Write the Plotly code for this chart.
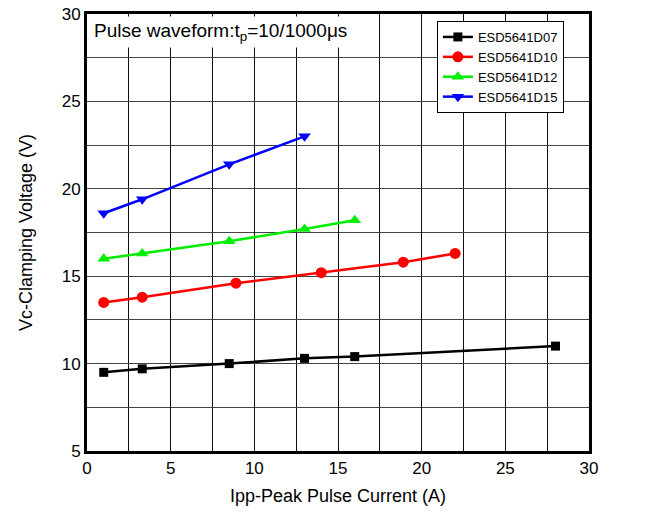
import plotly.graph_objects as go

names = ["ESD5641D07", "ESD5641D10", "ESD5641D12", "ESD5641D15"]
colors = ["#000000", "#ff0000", "#00ee00", "#0000ff"]
symbols = ["square", "circle", "triangle-up", "triangle-down"]
msizes = [9, 11, 11, 11]

x_d07 = [1, 3.3, 8.5, 13, 16, 28]
y_d07 = [9.5, 9.7, 10.0, 10.3, 10.4, 11.0]
x_d10 = [1, 3.3, 8.9, 14, 18.9, 22]
y_d10 = [13.5, 13.8, 14.6, 15.2, 15.8, 16.3]
x_d12 = [1, 3.3, 8.5, 13, 16]
y_d12 = [16.0, 16.3, 17.0, 17.7, 18.2]
x_d15 = [1, 3.3, 8.5, 13]
y_d15 = [18.6, 19.4, 21.4, 23.0]

xs = [x_d07, x_d10, x_d12, x_d15]
ys = [y_d07, y_d10, y_d12, y_d15]

fig = go.Figure()
for n, c, s, ms, x, y in zip(names, colors, symbols, msizes, xs, ys):
    fig.add_trace(go.Scatter(
        x=x, y=y, name=n, mode="lines+markers",
        line=dict(color=c, width=2.5),
        marker=dict(symbol=s, color=c, size=ms),
    ))

font_family = "Liberation Sans, Arial, sans-serif"
vgrid = dict(showgrid=True, gridcolor="#111", gridwidth=1)
hgrid = dict(showgrid=True, gridcolor="#444", gridwidth=1)
fig.update_layout(
    width=651, height=517,
    margin=dict(l=87, r=62, t=14, b=66),
    paper_bgcolor="white", plot_bgcolor="white",
    font=dict(family=font_family, color="#000000"),
    showlegend=True,
    legend=dict(
        x=0.697, y=0.984, xanchor="left", yanchor="top",
        bgcolor="white", bordercolor="black", borderwidth=1,
        font=dict(size=13, family=font_family),
        tracegroupgap=0,
    ),
    xaxis=dict(
        range=[0, 30], tick0=0, dtick=5, automargin=False,
        zeroline=False, **vgrid,
        showline=True, linecolor="black", linewidth=3, mirror=True,
        ticks="", tickfont=dict(size=17), ticklabeloverflow="allow",
        title=dict(text="Ipp-Peak Pulse Current (A)", font=dict(size=18), standoff=12),
        minor=dict(dtick=2.5, **vgrid),
    ),
    yaxis=dict(
        range=[5, 30], tick0=5, dtick=5, automargin=False,
        zeroline=False, **hgrid,
        showline=True, linecolor="black", linewidth=3, mirror=True,
        ticks="", tickfont=dict(size=17), ticklabeloverflow="allow",
        title=dict(text="Vc-Clamping Voltage (V)", font=dict(size=18), standoff=25),
        minor=dict(dtick=2.5, **hgrid),
    ),
    annotations=[dict(
        text="Pulse waveform:t<sub>p</sub>=10/1000μs",
        xref="paper", yref="paper", x=0.005, y=0.995,
        xanchor="left", yanchor="top", showarrow=False,
        font=dict(size=19, family=font_family),
        bgcolor="white", borderpad=3,
    )],
)

fig.write_html("out.html", config={"displayModeBar": False},
               post_script="document.body.style.margin='0';")
